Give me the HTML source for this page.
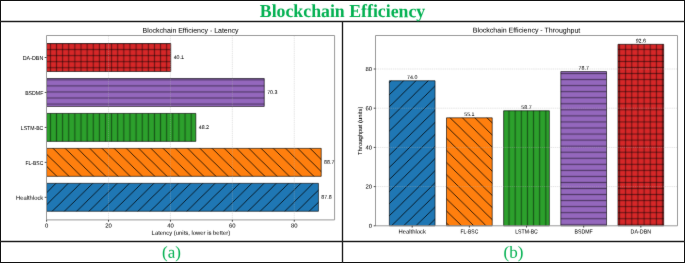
<!DOCTYPE html>
<html><head><meta charset="utf-8"><style>
html,body{margin:0;padding:0;background:#fff;width:685px;height:263px;overflow:hidden;font-family:"Liberation Sans",sans-serif}
svg{display:block}
.c text{stroke:#000;stroke-width:0.03px}
</style></head><body>
<svg width="685" height="263" viewBox="0 0 685 263" font-family="Liberation Sans, sans-serif" stroke-linejoin="round">
<defs>
<filter id="bl2" x="0" y="0" width="685" height="263" filterUnits="userSpaceOnUse" color-interpolation-filters="sRGB"><feConvolveMatrix order="3" kernelMatrix="0.0064 0.0672 0.0064 0.0672 0.7056 0.0672 0.0064 0.0672 0.0064" edgeMode="none"/></filter>
<filter id="bl" x="0" y="0" width="685" height="263" filterUnits="userSpaceOnUse" color-interpolation-filters="sRGB"><feConvolveMatrix order="3" kernelMatrix="0.0036 0.0528 0.0036 0.0528 0.7744 0.0528 0.0036 0.0528 0.0036" edgeMode="none"/></filter>
<pattern id="Lv" patternUnits="userSpaceOnUse" x="47.34" y="0" width="6.12" height="10"><path d="M3.06,-1V11" stroke="#000" stroke-width="1.2" stroke-opacity="0.45"/></pattern>
<pattern id="Lh" patternUnits="userSpaceOnUse" x="0" y="46.58" width="10" height="6.05"><path d="M-1,3.02H11" stroke="#000" stroke-width="1.2" stroke-opacity="0.45"/></pattern>
<pattern id="Lp" patternUnits="userSpaceOnUse" x="47.34" y="46.58" width="6.12" height="6.05"><path d="M3.06,-1V7.05" stroke="#000" stroke-width="1.2" stroke-opacity="0.45"/><path d="M-1,3.02H7.12" stroke="#000" stroke-width="1.2" stroke-opacity="0.45"/></pattern>
<pattern id="Ls" patternUnits="userSpaceOnUse" x="129.5" y="183.3" width="12.24" height="12.1"><path d="M-12.24,12.1L12.24,-12.1M-12.24,24.2L24.48,-12.1M0,24.2L24.48,0" stroke="#000" stroke-width="0.8"/></pattern>
<pattern id="Lb" patternUnits="userSpaceOnUse" x="102" y="148.4" width="12.24" height="12.1"><path d="M-12.24,-12.1L24.48,24.2M0,-12.1L24.48,12.1M-12.24,0L12.24,24.2" stroke="#000" stroke-width="0.8"/></pattern>
<pattern id="Rv" patternUnits="userSpaceOnUse" x="505.93" y="0" width="6.14" height="10"><path d="M3.07,-1V11" stroke="#000" stroke-width="1.2" stroke-opacity="0.45"/></pattern>
<pattern id="Rh" patternUnits="userSpaceOnUse" x="0" y="76.57" width="10" height="6.05"><path d="M-1,3.02H11" stroke="#000" stroke-width="1.2" stroke-opacity="0.45"/></pattern>
<pattern id="Rp" patternUnits="userSpaceOnUse" x="505.93" y="76.57" width="6.14" height="6.05"><path d="M3.07,-1V7.05" stroke="#000" stroke-width="1.2" stroke-opacity="0.45"/><path d="M-1,3.02H7.14" stroke="#000" stroke-width="1.2" stroke-opacity="0.45"/></pattern>
<pattern id="Rs" patternUnits="userSpaceOnUse" x="415.6" y="81" width="12.28" height="12.1"><path d="M-12.28,12.1L12.28,-12.1M-12.28,24.2L24.56,-12.1M0,24.2L24.56,0" stroke="#000" stroke-width="0.8"/></pattern>
<pattern id="Rb" patternUnits="userSpaceOnUse" x="462.6" y="117.9" width="12.28" height="12.1"><path d="M-12.28,-12.1L24.56,24.2M0,-12.1L24.56,12.1M-12.28,0L12.28,24.2" stroke="#000" stroke-width="0.8"/></pattern>
</defs>
<rect width="685" height="263" fill="#fff"/>
<g filter="url(#bl)"><g class="c">
<rect x="46.6" y="183.32" width="271.83" height="27.96" fill="#1f77b4"/>
<rect x="46.6" y="183.32" width="271.83" height="27.96" fill="url(#Ls)" stroke="#000" stroke-width="0.6"/>
<rect x="46.6" y="148.37" width="274.62" height="27.96" fill="#ff7f0e"/>
<rect x="46.6" y="148.37" width="274.62" height="27.96" fill="url(#Lb)" stroke="#000" stroke-width="0.6"/>
<rect x="46.6" y="113.42" width="149.23" height="27.96" fill="#2ca02c"/>
<rect x="46.6" y="113.42" width="149.23" height="27.96" fill="url(#Lv)" stroke="#000" stroke-width="0.6"/>
<rect x="46.6" y="78.47" width="217.65" height="27.96" fill="#9467bd"/>
<rect x="46.6" y="78.47" width="217.65" height="27.96" fill="url(#Lh)" stroke="#000" stroke-width="0.6"/>
<rect x="46.6" y="43.52" width="124.15" height="27.96" fill="#d62728"/>
<rect x="46.6" y="43.52" width="124.15" height="27.96" fill="url(#Lp)" stroke="#000" stroke-width="0.6"/>
<path d="M108.52,35.5V219.9" stroke="#b0b0b0" stroke-width="0.45" stroke-opacity="0.7" stroke-dasharray="1.5,0.66"/>
<path d="M170.44,35.5V219.9" stroke="#b0b0b0" stroke-width="0.45" stroke-opacity="0.7" stroke-dasharray="1.5,0.66"/>
<path d="M232.36,35.5V219.9" stroke="#b0b0b0" stroke-width="0.45" stroke-opacity="0.7" stroke-dasharray="1.5,0.66"/>
<path d="M294.28,35.5V219.9" stroke="#b0b0b0" stroke-width="0.45" stroke-opacity="0.7" stroke-dasharray="1.5,0.66"/>
<rect x="46.5" y="35.5" width="288.1" height="184.4" fill="none" stroke="#9a9a9a" stroke-width="1.0"/>
<path d="M46.6,219.9v1.8" stroke="#222" stroke-width="0.8"/>
<text transform="translate(46.6,227.6) rotate(0.05)" font-size="5.79" text-anchor="middle" textLength="3.29" lengthAdjust="spacingAndGlyphs" fill="#000">0</text>
<path d="M108.52,219.9v1.8" stroke="#222" stroke-width="0.8"/>
<text transform="translate(108.52,227.6) rotate(0.05)" font-size="5.79" text-anchor="middle" textLength="6.58" lengthAdjust="spacingAndGlyphs" fill="#000">20</text>
<path d="M170.44,219.9v1.8" stroke="#222" stroke-width="0.8"/>
<text transform="translate(170.44,227.6) rotate(0.05)" font-size="5.79" text-anchor="middle" textLength="6.58" lengthAdjust="spacingAndGlyphs" fill="#000">40</text>
<path d="M232.36,219.9v1.8" stroke="#222" stroke-width="0.8"/>
<text transform="translate(232.36,227.6) rotate(0.05)" font-size="5.79" text-anchor="middle" textLength="6.58" lengthAdjust="spacingAndGlyphs" fill="#000">60</text>
<path d="M294.28,219.9v1.8" stroke="#222" stroke-width="0.8"/>
<text transform="translate(294.28,227.6) rotate(0.05)" font-size="5.79" text-anchor="middle" textLength="6.58" lengthAdjust="spacingAndGlyphs" fill="#000">80</text>
<path d="M46.5,197.3h-1.8" stroke="#222" stroke-width="0.8"/>
<text transform="translate(43.3,199.85) rotate(0.05)" font-size="5.79" text-anchor="end" textLength="27.41" lengthAdjust="spacingAndGlyphs" fill="#000">Healthlock</text>
<text transform="translate(321.33,198.8) rotate(0.05)" font-size="5.21" textLength="10.35" lengthAdjust="spacingAndGlyphs" fill="#000">87.8</text>
<path d="M46.5,162.35h-1.8" stroke="#222" stroke-width="0.8"/>
<text transform="translate(43.3,164.9) rotate(0.05)" font-size="5.79" text-anchor="end" textLength="17.79" lengthAdjust="spacingAndGlyphs" fill="#000">FL-BSC</text>
<text transform="translate(324.12,163.85) rotate(0.05)" font-size="5.21" textLength="10.35" lengthAdjust="spacingAndGlyphs" fill="#000">88.7</text>
<path d="M46.5,127.4h-1.8" stroke="#222" stroke-width="0.8"/>
<text transform="translate(43.3,129.95) rotate(0.05)" font-size="5.79" text-anchor="end" textLength="22.53" lengthAdjust="spacingAndGlyphs" fill="#000">LSTM-BC</text>
<text transform="translate(198.73,128.9) rotate(0.05)" font-size="5.21" textLength="10.35" lengthAdjust="spacingAndGlyphs" fill="#000">48.2</text>
<path d="M46.5,92.45h-1.8" stroke="#222" stroke-width="0.8"/>
<text transform="translate(43.3,95) rotate(0.05)" font-size="5.79" text-anchor="end" textLength="18.15" lengthAdjust="spacingAndGlyphs" fill="#000">BSDMF</text>
<text transform="translate(267.15,93.95) rotate(0.05)" font-size="5.21" textLength="10.35" lengthAdjust="spacingAndGlyphs" fill="#000">70.3</text>
<path d="M46.5,57.5h-1.8" stroke="#222" stroke-width="0.8"/>
<text transform="translate(43.3,60.05) rotate(0.05)" font-size="5.79" text-anchor="end" textLength="20.57" lengthAdjust="spacingAndGlyphs" fill="#000">DA-DBN</text>
<text transform="translate(173.65,59) rotate(0.05)" font-size="5.21" textLength="10.35" lengthAdjust="spacingAndGlyphs" fill="#000">40.1</text>
<text transform="translate(190.55,32.7) rotate(0.05)" font-size="6.94" text-anchor="middle" textLength="96.08" lengthAdjust="spacingAndGlyphs" fill="#000">Blockchain Efficiency - Latency</text>
<text transform="translate(190.85,234.7) rotate(0.05)" font-size="5.79" text-anchor="middle" textLength="78.48" lengthAdjust="spacingAndGlyphs" fill="#000">Latency (units, lower is better)</text>
<rect x="389.33" y="80.76" width="45.73" height="145.04" fill="#1f77b4"/>
<rect x="389.33" y="80.76" width="45.73" height="145.04" fill="url(#Rs)" stroke="#000" stroke-width="0.6"/>
<text transform="translate(412.2,79.06) rotate(0.05)" font-size="5.21" text-anchor="middle" textLength="10.35" lengthAdjust="spacingAndGlyphs" fill="#000">74.0</text>
<rect x="446.5" y="117.8" width="45.73" height="108" fill="#ff7f0e"/>
<rect x="446.5" y="117.8" width="45.73" height="108" fill="url(#Rb)" stroke="#000" stroke-width="0.6"/>
<text transform="translate(469.36,116.1) rotate(0.05)" font-size="5.21" text-anchor="middle" textLength="10.35" lengthAdjust="spacingAndGlyphs" fill="#000">55.1</text>
<rect x="503.65" y="110.75" width="45.73" height="115.05" fill="#2ca02c"/>
<rect x="503.65" y="110.75" width="45.73" height="115.05" fill="url(#Rv)" stroke="#000" stroke-width="0.6"/>
<text transform="translate(526.52,109.05) rotate(0.05)" font-size="5.21" text-anchor="middle" textLength="10.35" lengthAdjust="spacingAndGlyphs" fill="#000">58.7</text>
<rect x="560.81" y="71.55" width="45.73" height="154.25" fill="#9467bd"/>
<rect x="560.81" y="71.55" width="45.73" height="154.25" fill="url(#Rh)" stroke="#000" stroke-width="0.6"/>
<text transform="translate(583.68,69.85) rotate(0.05)" font-size="5.21" text-anchor="middle" textLength="10.35" lengthAdjust="spacingAndGlyphs" fill="#000">78.7</text>
<rect x="617.97" y="44.3" width="45.73" height="181.5" fill="#d62728"/>
<rect x="617.97" y="44.3" width="45.73" height="181.5" fill="url(#Rp)" stroke="#000" stroke-width="0.6"/>
<text transform="translate(640.84,42.6) rotate(0.05)" font-size="5.21" text-anchor="middle" textLength="10.35" lengthAdjust="spacingAndGlyphs" fill="#000">92.6</text>
<path d="M375.5,186.6H677.5" stroke="#b0b0b0" stroke-width="0.45" stroke-opacity="0.7" stroke-dasharray="1.5,0.66"/>
<path d="M375.5,147.4H677.5" stroke="#b0b0b0" stroke-width="0.45" stroke-opacity="0.7" stroke-dasharray="1.5,0.66"/>
<path d="M375.5,108.2H677.5" stroke="#b0b0b0" stroke-width="0.45" stroke-opacity="0.7" stroke-dasharray="1.5,0.66"/>
<path d="M375.5,69H677.5" stroke="#b0b0b0" stroke-width="0.45" stroke-opacity="0.7" stroke-dasharray="1.5,0.66"/>
<rect x="375.5" y="35.5" width="302" height="190.3" fill="none" stroke="#9a9a9a" stroke-width="1.0"/>
<path d="M375.5,225.8h-1.8" stroke="#222" stroke-width="0.8"/>
<text transform="translate(372,227.8) rotate(0.05)" font-size="5.79" text-anchor="end" textLength="3.29" lengthAdjust="spacingAndGlyphs" fill="#000">0</text>
<path d="M375.5,186.6h-1.8" stroke="#222" stroke-width="0.8"/>
<text transform="translate(372,188.6) rotate(0.05)" font-size="5.79" text-anchor="end" textLength="6.58" lengthAdjust="spacingAndGlyphs" fill="#000">20</text>
<path d="M375.5,147.4h-1.8" stroke="#222" stroke-width="0.8"/>
<text transform="translate(372,149.4) rotate(0.05)" font-size="5.79" text-anchor="end" textLength="6.58" lengthAdjust="spacingAndGlyphs" fill="#000">40</text>
<path d="M375.5,108.2h-1.8" stroke="#222" stroke-width="0.8"/>
<text transform="translate(372,110.2) rotate(0.05)" font-size="5.79" text-anchor="end" textLength="6.58" lengthAdjust="spacingAndGlyphs" fill="#000">60</text>
<path d="M375.5,69h-1.8" stroke="#222" stroke-width="0.8"/>
<text transform="translate(372,71) rotate(0.05)" font-size="5.79" text-anchor="end" textLength="6.58" lengthAdjust="spacingAndGlyphs" fill="#000">80</text>
<path d="M412.2,225.8v1.8" stroke="#222" stroke-width="0.8"/>
<text transform="translate(412.2,233.5) rotate(0.05)" font-size="5.79" text-anchor="middle" textLength="27.41" lengthAdjust="spacingAndGlyphs" fill="#000">Healthlock</text>
<path d="M469.36,225.8v1.8" stroke="#222" stroke-width="0.8"/>
<text transform="translate(469.36,233.5) rotate(0.05)" font-size="5.79" text-anchor="middle" textLength="17.79" lengthAdjust="spacingAndGlyphs" fill="#000">FL-BSC</text>
<path d="M526.52,225.8v1.8" stroke="#222" stroke-width="0.8"/>
<text transform="translate(526.52,233.5) rotate(0.05)" font-size="5.79" text-anchor="middle" textLength="22.53" lengthAdjust="spacingAndGlyphs" fill="#000">LSTM-BC</text>
<path d="M583.68,225.8v1.8" stroke="#222" stroke-width="0.8"/>
<text transform="translate(583.68,233.5) rotate(0.05)" font-size="5.79" text-anchor="middle" textLength="18.15" lengthAdjust="spacingAndGlyphs" fill="#000">BSDMF</text>
<path d="M640.84,225.8v1.8" stroke="#222" stroke-width="0.8"/>
<text transform="translate(640.84,233.5) rotate(0.05)" font-size="5.79" text-anchor="middle" textLength="20.57" lengthAdjust="spacingAndGlyphs" fill="#000">DA-DBN</text>
<text transform="translate(526.5,32.6) rotate(0.05)" font-size="6.94" text-anchor="middle" textLength="107.59" lengthAdjust="spacingAndGlyphs" fill="#000">Blockchain Efficiency - Throughput</text>
<g transform="translate(361.9,130.8) rotate(-90)"><text transform="translate(0,0) rotate(0.05)" font-size="5.79" text-anchor="middle" textLength="48.42" lengthAdjust="spacingAndGlyphs" fill="#000">Throughput (units)</text></g>
</g></g>
<path d="M0,0.5H685M0.5,0V263M684.5,0V263M0,262.5H685" stroke="#111" stroke-width="1"/>
<path d="M0,21.5H685M0,241.5H685M342.5,21V263" stroke="#222" stroke-width="1.4"/>
<g filter="url(#bl2)">
<text transform="translate(342.5,17.1) rotate(0.03) scale(1,1.03)" font-family="Liberation Serif, serif" font-weight="bold" font-size="17.8" fill="#00b050" text-anchor="middle">Blockchain Efficiency</text>
<text transform="translate(171.5,257.8) rotate(0.03)" font-family="Liberation Serif, serif" font-size="17" fill="#00b050" text-anchor="middle">(a)</text>
<text transform="translate(513.5,257.8) rotate(0.03)" font-family="Liberation Serif, serif" font-size="17" fill="#00b050" text-anchor="middle">(b)</text>
</g>
</svg>
</body></html>
